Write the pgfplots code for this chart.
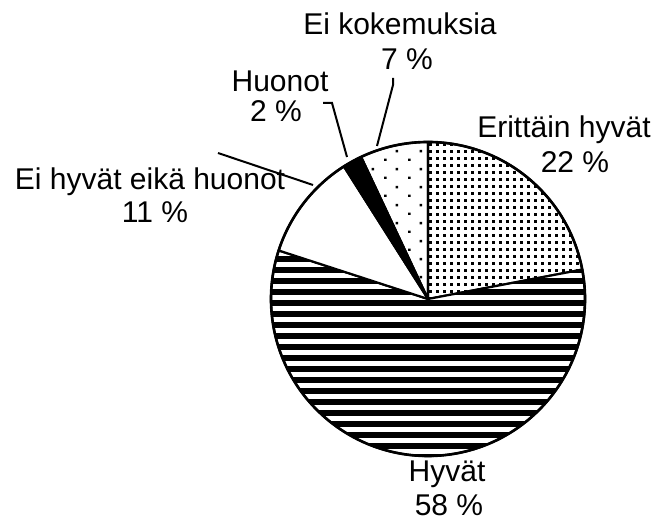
\documentclass[border=0pt]{standalone}
\usepackage{pgfplots}
\pgfplotsset{compat=1.18}
\usepackage{pgfplotstable}
\usepackage{fontspec}
\setmainfont{Liberation Sans}
\usetikzlibrary{patterns}
\pgfdeclarepatternformonly{ddots}{\pgfpointorigin}{\pgfqpoint{6.5pt}{6.5pt}}{\pgfqpoint{6.5pt}{6.5pt}}{%
  \pgfpathrectangle{\pgfpointorigin}{\pgfqpoint{3pt}{3pt}}\pgfusepath{fill}}
\pgfdeclarepatternformonly{sdots}{\pgfpointorigin}{\pgfqpoint{24pt}{18pt}}{\pgfqpoint{24pt}{18pt}}{%
  \pgfpathrectangle{\pgfpointorigin}{\pgfqpoint{2.6pt}{2.6pt}}\pgfusepath{fill}%
  \pgfpathrectangle{\pgfqpoint{12pt}{9pt}}{\pgfqpoint{2.6pt}{2.6pt}}\pgfusepath{fill}}
\tikzset{
  pdense/.style={pattern=ddots},
  pstripe/.style={fill=white, path picture={%
    \foreach \k in {0,...,29}{\fill[black] (axis cs:260,{61+11*\k}) rectangle (axis cs:600,{67+11*\k});}}},
  pwhite/.style={fill=white},
  pblack/.style={fill=black},
  psparse/.style={pattern=sdots},
  lbl/.style={font=\fontsize{30}{34}\selectfont, anchor=base, inner sep=0pt},
}
\begin{document}
\begin{tikzpicture}
\begin{axis}[
  scale only axis, width=661pt, height=521pt,
  xmin=0, xmax=661, ymin=0, ymax=521,
  hide axis, clip=false,
]
\addplot[draw=none] coordinates {(0,0) (661,521)};
\def\cum{0}
\foreach \val/\sty in {22/pdense, 58/pstripe, 11/pwhite, 2/pblack, 7/psparse}{
  \pgfmathsetmacro\a{90-3.6*\cum}
  \pgfmathsetmacro\b{90-3.6*(\cum+\val)}
  \edef\cmd{\noexpand\filldraw[\sty, draw=black, line width=2.2pt, line join=round] (axis cs:428,222) -- ++(\a:157pt) arc[start angle=\a, end angle=\b, radius=157pt] -- cycle;}
  \cmd
  \pgfmathsetmacro\newcum{\cum+\val}
  \xdef\cum{\newcum}
}
\draw[line width=2.6pt] (axis cs:428,222) circle[radius=157pt];
% leader lines
\draw[line width=2pt] (axis cs:393,443) -- (axis cs:393,436) -- (axis cs:377,375);
\draw[line width=2pt] (axis cs:323,418) -- (axis cs:332,418) -- (axis cs:347,364);
\draw[line width=2pt] (axis cs:218,368) -- (axis cs:313,336);
% labels
\node[lbl] at (axis cs:400,486) {Ei kokemuksia};
\node[lbl] at (axis cs:407,451) {7 \%};
\node[lbl] at (axis cs:280,429) {Huonot};
\node[lbl] at (axis cs:276,399) {2 \%};
\node[lbl] at (axis cs:564,383) {Erittäin hyvät};
\node[lbl] at (axis cs:575,348) {22 \%};
\node[lbl] at (axis cs:150,331) {Ei hyvät eikä huonot};
\node[lbl] at (axis cs:155,298) {11 \%};
\node[lbl] at (axis cs:447,39) {Hyvät};
\node[lbl] at (axis cs:449,5) {58 \%};
\end{axis}
\end{tikzpicture}
\end{document}
